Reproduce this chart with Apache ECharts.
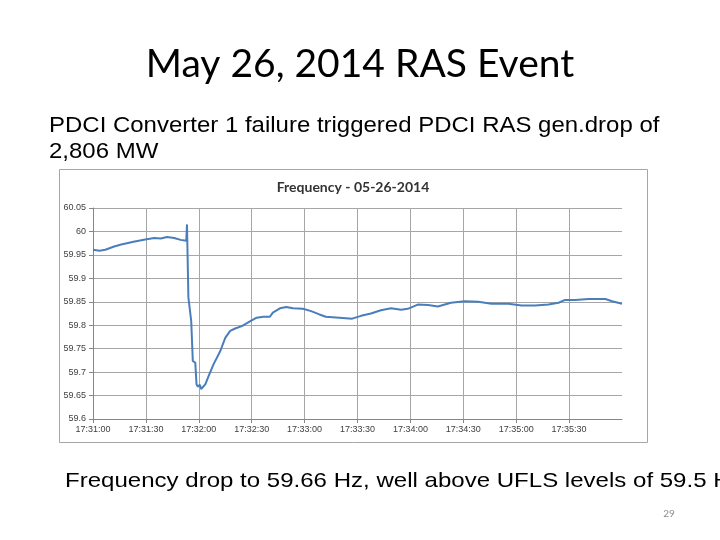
<!DOCTYPE html>
<html>
<head>
<meta charset="utf-8">
<script src="https://cdn.jsdelivr.net/npm/echarts@6/dist/echarts.min.js"></script>
<style>
html,body{margin:0;padding:0;background:#fff;}
#c{width:720px;height:540px;}
</style>
</head>
<body>
<div id="c"></div>
<script>
// seconds after 17:31:00
var seconds = [0, 3.7, 7, 12, 16, 23, 29.6, 34.7, 38.4, 42, 46, 49.7, 52.9, 53.3, 53.7, 54.1, 55, 55.7, 56.6, 57.3, 58, 58.7, 59.4, 60.6, 61.3, 62.4, 63.7, 65.6, 68.4, 72.2, 75, 77.8, 80.6, 84.4, 89, 92.8, 96.6, 100.3, 102, 106, 109.7, 113.4, 119, 123.7, 128.4, 132, 139.7, 147, 152, 157.6, 163.3, 169, 174.7, 178.5, 184.2, 190, 195.6, 203, 210.8, 218.4, 226, 235.5, 243, 250.7, 258.3, 264, 267.8, 273.5, 281, 290.6, 294.4, 300];
var frequency = [59.961, 59.959, 59.961, 59.968, 59.972, 59.978, 59.983, 59.986, 59.985, 59.988, 59.986, 59.982, 59.980, 60.015, 60.013, 59.859, 59.855, 59.809, 59.724, 59.720, 59.720, 59.674, 59.669, 59.673, 59.664, 59.667, 59.674, 59.692, 59.717, 59.745, 59.773, 59.788, 59.793, 59.798, 59.808, 59.816, 59.818, 59.818, 59.827, 59.836, 59.839, 59.836, 59.835, 59.830, 59.823, 59.818, 59.816, 59.814, 59.820, 59.825, 59.832, 59.836, 59.833, 59.835, 59.844, 59.843, 59.840, 59.848, 59.851, 59.850, 59.846, 59.846, 59.842, 59.842, 59.844, 59.848, 59.854, 59.854, 59.856, 59.856, 59.851, 59.846];
var yTicks = [59.6, 60.05, 0.05]; // min, max, step
var chartTitle = 'Frequency - 05-26-2014';
var slideTitle = 'May 26, 2014 RAS Event';
var line1 = 'PDCI Converter 1 failure triggered PDCI RAS gen.drop of';
var line2 = '2,806 MW';
var bottomText = 'Frequency drop to 59.66 Hz, well above UFLS levels of 59.5 Hz';
var pageNo = '29';

var pts = seconds.map(function(s, i){ return [s, frequency[i]]; });
function fmtTime(s){
  var t = 17*3600 + 31*60 + Math.round(s);
  var h = Math.floor(t/3600), m = Math.floor((t%3600)/60), sec = t%60;
  return h + ':' + (m<10?'0':'') + m + ':' + (sec<10?'0':'') + sec;
}
var chart = echarts.init(document.getElementById('c'), null, {renderer:'canvas'});
chart.setOption({
  backgroundColor:'#fff',
  animation:false,
  grid:{left:93, right:98, top:208, bottom:121, containLabel:false},
  xAxis:{type:'value', min:0, max:300, interval:30,
    axisLine:{show:true, lineStyle:{color:'#868686', width:1}},
    axisTick:{show:true, inside:false, length:4, lineStyle:{color:'#868686'}},
    axisLabel:{color:'#404040', fontSize:9, fontFamily:'Liberation Sans Narrow, Liberation Sans', margin:6, showMaxLabel:false,
      formatter:function(v){ return fmtTime(v); }},
    splitLine:{show:true, showMinLine:false, showMaxLine:false, lineStyle:{color:'#a6a6a6', width:1}}
  },
  yAxis:{type:'value', min:yTicks[0], max:yTicks[1], interval:yTicks[2],
    axisLine:{show:true, lineStyle:{color:'#868686', width:1}},
    axisTick:{show:true, inside:false, length:4, lineStyle:{color:'#868686'}},
    axisLabel:{color:'#404040', fontSize:9, fontFamily:'Liberation Sans Narrow, Liberation Sans', margin:7,
      formatter:function(v){ return String(parseFloat(v.toFixed(2))); }},
    splitLine:{show:true, lineStyle:{color:'#a6a6a6', width:1}}
  },
  series:[{type:'line', data:pts, showSymbol:false, symbol:'none',
    lineStyle:{color:'#4a7ebb', width:2}, z:5}],
  graphic:[
    {type:'rect', shape:{x:59.5, y:169.5, width:588, height:273}, style:{fill:'none', stroke:'#a6a6a6', lineWidth:1}, z:-1},
    {type:'text', x:353, y:187, style:{text:chartTitle, font:'bold 14px Lato, Liberation Sans', fill:'#333', textAlign:'center', textVerticalAlign:'middle'}},
    {type:'text', x:360, y:64, style:{text:slideTitle, font:'39px Lato, Liberation Sans', fill:'#000', textAlign:'center', textVerticalAlign:'middle'}},
    {type:'text', x:49, y:126, scaleX:1.09, style:{text:line1, font:'22px Liberation Sans, Arial', fill:'#000', textAlign:'left', textVerticalAlign:'middle'}},
    {type:'text', x:49, y:152, scaleX:1.09, style:{text:line2, font:'22px Liberation Sans, Arial', fill:'#000', textAlign:'left', textVerticalAlign:'middle'}},
    {type:'text', x:65, y:481, scaleX:1.145, style:{text:bottomText, font:'21px Liberation Sans, Arial', fill:'#000', textAlign:'left', textVerticalAlign:'middle'}},
    {type:'text', x:669, y:514, style:{text:pageNo, font:'10px Lato, Liberation Sans', fill:'#8c8c8c', textAlign:'center', textVerticalAlign:'middle'}}
  ]
});
</script>
</body>
</html>
